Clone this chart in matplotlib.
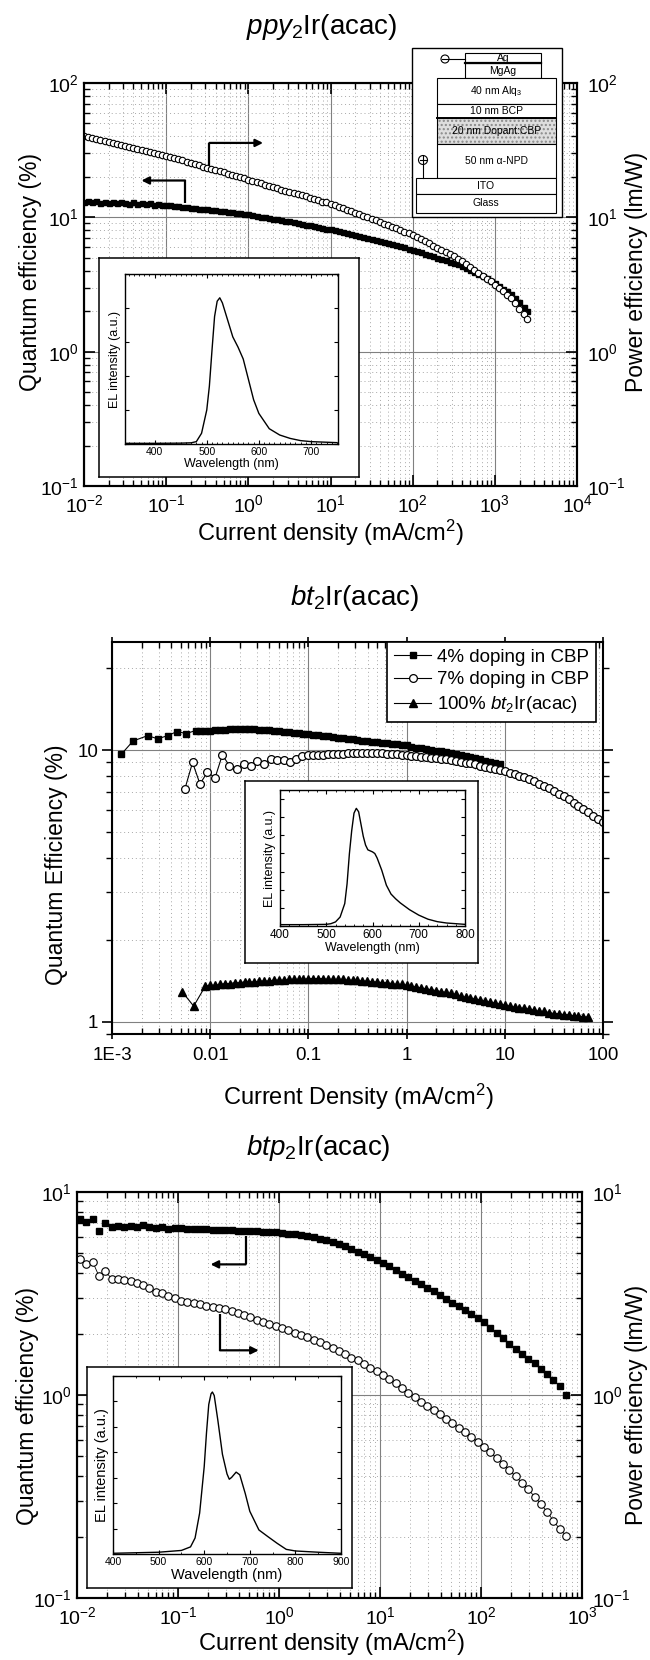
import matplotlib
matplotlib.use("Agg")
import matplotlib.pyplot as plt
from matplotlib.patches import Rectangle, Circle
from matplotlib.ticker import LogLocator, NullFormatter, MultipleLocator

plt.rcParams["font.family"] = ["Liberation Sans", "DejaVu Sans"]
plt.rcParams["mathtext.fontset"] = "custom"
plt.rcParams["mathtext.rm"] = "Liberation Sans"
plt.rcParams["mathtext.it"] = "Liberation Sans:italic"
plt.rcParams["mathtext.bf"] = "Liberation Sans:bold"

# ---------------- data: ppy2Ir(acac) ----------------
j_ppy = [0.0100, 0.0112, 0.0126, 0.0141, 0.0158, 0.0178, 0.0200, 0.0224, 0.0251, 0.0282,
         0.0316, 0.0355, 0.0398, 0.0447, 0.0501, 0.0562, 0.0631, 0.0708, 0.0794, 0.0891,
         0.100, 0.112, 0.126, 0.141, 0.158, 0.178, 0.200, 0.224, 0.251, 0.282,
         0.316, 0.355, 0.398, 0.447, 0.501, 0.562, 0.631, 0.708, 0.794, 0.891,
         1.00, 1.12, 1.26, 1.41, 1.58, 1.78, 2.00, 2.24, 2.51, 2.82,
         3.16, 3.55, 3.98, 4.47, 5.01, 5.62, 6.31, 7.08, 7.94, 8.91,
         10.0, 11.2, 12.6, 14.1, 15.8, 17.8, 20.0, 22.4, 25.1, 28.2,
         31.6, 35.5, 39.8, 44.7, 50.1, 56.2, 63.1, 70.8, 79.4, 89.1,
         100, 112, 126, 141, 158, 178, 200, 224, 251, 282,
         316, 355, 398, 447, 501, 562, 631, 708, 794, 891,
         1000, 1122, 1259, 1413, 1585, 1778, 1995, 2239, 2455]
qe_ppy = [13.1, 13.3, 12.9, 13.2, 12.8, 13.1, 12.8, 13.0, 12.7, 13.0,
          12.8, 12.6, 12.9, 12.6, 12.7, 12.5, 12.7, 12.4, 12.6, 12.4,
          12.4, 12.3, 12.2, 12.1, 12.0, 11.9, 11.8, 11.7, 11.6, 11.6,
          11.5, 11.4, 11.3, 11.2, 11.1, 11.0, 10.9, 10.8, 10.7, 10.6,
          10.5, 10.35, 10.2, 10.1, 10.0, 9.89, 9.77, 9.66, 9.55, 9.44,
          9.33, 9.20, 9.08, 8.95, 8.83, 8.71, 8.59, 8.47, 8.36, 8.24,
          8.13, 8.00, 7.87, 7.74, 7.62, 7.50, 7.38, 7.26, 7.14, 7.03,
          6.92, 6.79, 6.67, 6.55, 6.43, 6.31, 6.19, 6.08, 5.97, 5.86,
          5.75, 5.62, 5.50, 5.37, 5.25, 5.13, 5.01, 4.90, 4.79, 4.68,
          4.57, 4.46, 4.34, 4.21, 4.07, 3.94, 3.79, 3.66, 3.52, 3.37,
          3.24, 3.09, 2.95, 2.82, 2.69, 2.51, 2.34, 2.16, 2.00]
pe_ppy = [40.2, 39.5, 38.8, 38.2, 37.5, 36.9, 36.3, 35.6, 35.1, 34.4,
          33.9, 33.3, 32.8, 32.3, 31.8, 31.3, 30.8, 30.3, 29.8, 29.3,
          28.8, 28.2, 27.7, 27.1, 26.5, 26.0, 25.5, 24.9, 24.4, 23.9,
          23.4, 23.0, 22.5, 22.0, 21.6, 21.1, 20.7, 20.3, 19.9, 19.5,
          19.1, 18.7, 18.3, 17.9, 17.5, 17.2, 16.8, 16.5, 16.1, 15.8,
          15.5, 15.2, 14.9, 14.6, 14.3, 14.0, 13.7, 13.4, 13.1, 12.9,
          12.6, 12.3, 12.0, 11.7, 11.4, 11.1, 10.8, 10.5, 10.3, 10.0,
          9.77, 9.51, 9.25, 8.99, 8.75, 8.51, 8.28, 8.05, 7.83, 7.62,
          7.41, 7.14, 6.89, 6.64, 6.40, 6.17, 5.94, 5.73, 5.52, 5.32,
          5.13, 4.91, 4.70, 4.49, 4.28, 4.07, 3.87, 3.68, 3.50, 3.33,
          3.16, 2.99, 2.82, 2.66, 2.51, 2.29, 2.09, 1.91, 1.74]
wl_ppy = [345, 400, 450, 470, 480, 490, 500, 505, 510, 515, 520, 525, 530, 540, 550,
          560, 570, 580, 590, 600, 620, 640, 660, 680, 700, 750]
el_ppy = [0.004, 0.004, 0.005, 0.007, 0.014, 0.063, 0.20, 0.34, 0.55, 0.75, 0.84, 0.86, 0.83,
          0.73, 0.63, 0.57, 0.50, 0.38, 0.26, 0.18, 0.09, 0.053, 0.033, 0.02, 0.014, 0.008]

# ---------------- data: bt2Ir(acac) ----------------
j_bt = [0.00794, 0.00891,
        0.0100, 0.0112, 0.0126, 0.0141, 0.0158, 0.0178, 0.0200, 0.0224, 0.0251, 0.0282,
        0.0316, 0.0355, 0.0398, 0.0447, 0.0501, 0.0562, 0.0631, 0.0708, 0.0794, 0.0891,
        0.100, 0.112, 0.126, 0.141, 0.158, 0.178, 0.200, 0.224, 0.251, 0.282,
        0.316, 0.355, 0.398, 0.447, 0.501, 0.562, 0.631, 0.708, 0.794, 0.891,
        1.00, 1.12, 1.26, 1.41, 1.58, 1.78, 2.00, 2.24, 2.51, 2.82,
        3.16, 3.55, 3.98, 4.47, 5.01, 5.62, 6.31, 7.08, 7.94, 8.91,
        10.0, 11.2, 12.6, 14.1, 15.8, 17.8, 20.0, 22.4, 25.1, 28.2,
        31.6, 35.5, 39.8, 44.7, 50.1, 56.2, 63.1, 70.8, 79.4, 89.1,
        100]
j4_low = [0.00124, 0.00164, 0.00231, 0.00292, 0.00369, 0.00459, 0.00571, 0.00709]
qe4_low = [9.64, 10.8, 11.3, 11.0, 11.3, 11.7, 11.5, 11.8]
qe4 = [11.75, 11.8, 11.8, 11.9, 11.9, 11.9, 12.0, 12.0, 12.0, 12.0,
       12.0, 12.0, 11.9, 11.9, 11.9, 11.8, 11.8, 11.7, 11.7, 11.6,
       11.6, 11.5, 11.5, 11.4, 11.35, 11.3, 11.25, 11.2, 11.1, 11.1,
       11.0, 11.0, 10.9, 10.8, 10.8, 10.7, 10.7, 10.6, 10.6, 10.5,
       10.5, 10.4, 10.4, 10.3, 10.2, 10.2, 10.1, 10.0, 9.95, 9.89,
       9.82, 9.75, 9.66, 9.57, 9.48, 9.40, 9.31, 9.23, 9.14, 9.06,
       8.95, 8.85]
j7_low = [0.00553, 0.00661, 0.00787, 0.00938, 0.0112, 0.0133, 0.0157, 0.0186, 0.0219, 0.0259,
          0.0303, 0.0355, 0.0414, 0.0484, 0.0562, 0.0649, 0.0745, 0.0854, 0.0989]
qe7_low = [7.2, 9.0, 7.5, 8.3, 7.9, 9.6, 8.75, 8.5, 8.9, 8.7,
           9.1, 8.9, 9.3, 9.2, 9.2, 9.0, 9.3, 9.5, 9.55]
qe7 = [9.57, 9.59, 9.62, 9.64, 9.66, 9.68, 9.70, 9.72, 9.72, 9.75,
       9.75, 9.75, 9.75, 9.75, 9.72, 9.70, 9.68, 9.66, 9.62, 9.57,
       9.53, 9.48, 9.44, 9.40, 9.35, 9.31, 9.27, 9.23, 9.18, 9.12,
       9.06, 8.99, 8.93, 8.85, 8.77, 8.69, 8.61, 8.53, 8.45, 8.38,
       8.26, 8.15, 8.04, 7.93, 7.80, 7.67, 7.53, 7.38, 7.23, 7.06,
       6.90, 6.75, 6.58, 6.40, 6.22, 6.05, 5.89, 5.73, 5.57, 5.42]
j100_low = [0.00516, 0.00679]
qe100_low = [1.29, 1.14]
qe100 = [1.35, 1.36, 1.36, 1.37, 1.38, 1.38, 1.39, 1.39, 1.40, 1.40,
         1.40, 1.41, 1.41, 1.41, 1.42, 1.42, 1.42, 1.43, 1.43, 1.43,
         1.43, 1.44, 1.44, 1.44, 1.44, 1.43, 1.43, 1.43, 1.43, 1.42,
         1.42, 1.42, 1.41, 1.41, 1.40, 1.40, 1.39, 1.39, 1.38, 1.37,
         1.37, 1.36, 1.35, 1.34, 1.33, 1.32, 1.31, 1.30, 1.29, 1.28,
         1.27, 1.26, 1.24, 1.23, 1.22, 1.21, 1.20, 1.19, 1.18, 1.17,
         1.16, 1.15, 1.14, 1.13, 1.12, 1.12, 1.11, 1.10, 1.09, 1.09,
         1.08, 1.07, 1.07, 1.06, 1.06, 1.05, 1.05, 1.04, 1.04]
wl_bt = [400, 450, 500, 510, 520, 530, 540, 545, 550, 555, 560, 565, 570, 575, 580, 585,
         590, 600, 605, 610, 620, 630, 640, 650, 660, 680, 700, 720, 740, 760, 800]
el_bt = [0.01, 0.01, 0.012, 0.017, 0.03, 0.066, 0.165, 0.31, 0.53, 0.70, 0.83, 0.865, 0.84,
         0.75, 0.66, 0.595, 0.56, 0.545, 0.533, 0.50, 0.41, 0.30, 0.235, 0.20, 0.17, 0.12,
         0.08, 0.05, 0.032, 0.022, 0.012]

# ---------------- data: btp2Ir(acac) ----------------
j_btp = [0.0107, 0.0124, 0.0143, 0.0165, 0.0191, 0.0220, 0.0254, 0.0293,
         0.0339, 0.0391, 0.0452, 0.0522, 0.0603, 0.0696, 0.0804, 0.0928,
         0.107, 0.124, 0.143, 0.165, 0.191, 0.220, 0.254, 0.293,
         0.339, 0.391, 0.452, 0.522, 0.603, 0.696, 0.804, 0.928,
         1.07, 1.24, 1.43, 1.65, 1.91, 2.20, 2.54, 2.93,
         3.39, 3.91, 4.52, 5.22, 6.03, 6.96, 8.04, 9.28,
         10.7, 12.4, 14.3, 16.5, 19.1, 22.0, 25.4, 29.3,
         33.9, 39.1, 45.2, 52.2, 60.3, 69.6, 80.4, 92.8,
         107, 124, 143, 165, 191, 220, 254, 293,
         339, 391, 452, 522, 603, 696]
qe_btp = [7.36, 7.08, 7.36, 6.44, 7.00, 6.70, 6.80, 6.70, 6.83, 6.70, 6.90, 6.75, 6.62, 6.70, 6.58, 6.62,
          6.61, 6.59, 6.58, 6.56, 6.55, 6.53, 6.52, 6.50, 6.47, 6.46, 6.44, 6.41, 6.40, 6.37, 6.35, 6.32,
          6.28, 6.24, 6.18, 6.12, 6.07, 5.98, 5.89, 5.78, 5.66, 5.53, 5.40, 5.25, 5.09, 4.93, 4.78, 4.62,
          4.48, 4.31, 4.13, 3.96, 3.81, 3.66, 3.52, 3.37, 3.24, 3.10, 2.97, 2.85, 2.74, 2.62, 2.51, 2.40,
          2.28, 2.15, 2.03, 1.91, 1.79, 1.69, 1.60, 1.51, 1.43, 1.35, 1.27, 1.19, 1.11, 1.00]
pe_btp = [4.66, 4.40, 4.53, 3.85, 4.07, 3.74, 3.74, 3.70, 3.63, 3.56, 3.49, 3.36, 3.23, 3.18, 3.06, 3.00,
          2.92, 2.88, 2.84, 2.80, 2.75, 2.72, 2.68, 2.64, 2.59, 2.53, 2.47, 2.41, 2.35, 2.30, 2.24, 2.19,
          2.14, 2.09, 2.03, 1.98, 1.92, 1.87, 1.82, 1.77, 1.71, 1.65, 1.59, 1.53, 1.48, 1.42, 1.36, 1.31,
          1.26, 1.20, 1.14, 1.08, 1.02, 0.973, 0.927, 0.883, 0.841, 0.802, 0.764, 0.726, 0.690, 0.656, 0.622, 0.589,
          0.556, 0.521, 0.489, 0.457, 0.427, 0.397, 0.370, 0.343, 0.316, 0.291, 0.265, 0.240, 0.218, 0.203]
wl_btp = [400, 450, 500, 550, 570, 580, 590, 600, 605, 610, 615, 618, 622, 630, 640,
          650, 655, 660, 670, 678, 690, 700, 720, 740, 760, 780, 800, 850, 900]
el_btp = [0.004, 0.007, 0.01, 0.02, 0.04, 0.09, 0.23, 0.49, 0.68, 0.84, 0.90, 0.91, 0.89, 0.75, 0.56,
          0.45, 0.42, 0.43, 0.46, 0.445, 0.34, 0.24, 0.135, 0.097, 0.06, 0.026, 0.017, 0.01, 0.004]

W, H = 650, 1660
fig = plt.figure(figsize=(W / 100, H / 100), dpi=100)


def box(x0, y0, x1, y1):
    # pixel rectangle (top-left origin) -> figure fraction
    return [x0 / W, 1 - y1 / H, (x1 - x0) / W, (y1 - y0) / H]


def log_axes(rect, xlim, ylim):
    ax = fig.add_axes(box(*rect))
    ax.set_xscale("log")
    ax.set_yscale("log")
    ax.set_xlim(*xlim)
    ax.set_ylim(*ylim)
    for a in (ax.xaxis, ax.yaxis):
        a.set_major_locator(LogLocator(base=10, numticks=20))
        a.set_minor_locator(LogLocator(base=10, subs=range(2, 10), numticks=20))
        a.set_minor_formatter(NullFormatter())
    ax.grid(True, which="major", color="#808080", lw=0.8)
    ax.grid(True, which="minor", color="#a8a8a8", lw=0.7, ls=(0, (1, 3)))
    ax.set_axisbelow(True)
    for s in ax.spines.values():
        s.set_linewidth(1.5)
    return ax


def twin_right(ax, ylim):
    ax2 = ax.twinx()
    ax2.set_yscale("log")
    ax2.set_ylim(*ylim)
    ax2.yaxis.set_major_locator(LogLocator(base=10, numticks=20))
    ax2.yaxis.set_minor_locator(LogLocator(base=10, subs=range(2, 10), numticks=20))
    ax2.yaxis.set_minor_formatter(NullFormatter())
    ax2.tick_params(which="both", direction="in", labelsize=14, pad=7)
    ax2.tick_params(which="major", length=8, width=1.2)
    ax2.tick_params(which="minor", length=4, width=1)
    for s in ax2.spines.values():
        s.set_linewidth(1.5)
    return ax2


def elbow(ax, x0, y0, y1, x2):
    ax.plot([x0, x0], [y0, y1], color="black", lw=1.6, solid_capstyle="butt")
    ax.annotate("", xy=(x2, y1), xytext=(x0, y1),
                arrowprops=dict(arrowstyle="-|>", color="black", lw=1.6,
                                mutation_scale=11, shrinkA=0, shrinkB=0))


def inset(outer, inner, wl, el, xlim, xticks, xminor, ystep, fs_lab, fs_tick):
    ob = fig.add_axes(box(*outer))
    ob.set_xticks([])
    ob.set_yticks([])
    for s in ob.spines.values():
        s.set_linewidth(1.1)
    ia = fig.add_axes(box(*inner))
    ia.plot(wl, el, color="black", lw=1.0)
    ia.set_xlim(*xlim)
    ia.set_ylim(0, 1)
    ia.set_xticks(xticks)
    ia.xaxis.set_minor_locator(MultipleLocator(xminor))
    ia.yaxis.set_major_locator(MultipleLocator(ystep))
    ia.tick_params(which="both", direction="in", top=True, right=True,
                   labelsize=fs_tick, pad=2, labelleft=False)
    ia.tick_params(which="major", length=3, width=0.8)
    ia.tick_params(which="minor", length=1.5, width=0.6)
    ia.set_xlabel("Wavelength (nm)", fontsize=fs_lab, labelpad=1)
    ia.set_ylabel("EL intensity (a.u.)", fontsize=fs_lab, labelpad=3)
    for s in ia.spines.values():
        s.set_linewidth(1.0)
    return ia


def ftext(x, y, s, **kw):
    fig.text(x / W, 1 - y / H, s, ha="center", va="center", **kw)


# ================= panel 1 =================
ax1 = log_axes((84, 83, 577, 486), (1e-2, 1e4), (0.1, 100))
ax1.plot(j_ppy, qe_ppy, ls="none", marker="s", ms=3.6, color="black")
ax1.set_xlim(1e-2, 1e4)
ax1.set_ylim(0.1, 100)
ax1.tick_params(which="both", direction="in", top=True, right=False, labelsize=14)
ax1.tick_params(axis="x", pad=6)
ax1.tick_params(axis="y", pad=4)
ax1.tick_params(which="major", length=8, width=1.2)
ax1.tick_params(which="minor", length=4, width=1)
ax1b = twin_right(ax1, (0.1, 100))
ax1b.plot(j_ppy, pe_ppy, ls="none", marker="o", ms=4.6, mfc="white", mec="black", mew=0.8)
ax1b.set_ylim(0.1, 100)
elbow(ax1, 0.17, 12.7, 18.8, 0.05)
elbow(ax1, 0.336, 24.0, 35.8, 1.51)

ftext(322, 27, r"$\mathit{ppy}_2$Ir(acac)", fontsize=20)
ftext(330, 533, r"Current density (mA/cm$^2$)", fontsize=17)
ftext(31, 272, "Quantum efficiency (%)", fontsize=16.5, rotation=90)
ftext(636, 272, "Power efficiency (lm/W)", fontsize=16.5, rotation=90)

inset((99, 258, 359, 477), (125, 274, 338, 444), wl_ppy, el_ppy,
      (343, 752), [400, 500, 600, 700], 10, 0.2, 9, 7.5)

# ================= panel 2 =================
ax2 = log_axes((112, 642, 603, 1034), (1e-3, 100), (0.9, 25))
ax2.plot(j4_low + j_bt[0:62], qe4_low + qe4, "-", color="black", lw=0.8,
         marker="s", ms=4.6, label="4% doping in CBP")
ax2.plot(j7_low + j_bt[23:83], qe7_low + qe7, "-", color="black", lw=0.8,
         marker="o", ms=5.6, mfc="white", mec="black", mew=0.9, label="7% doping in CBP")
ax2.plot(j100_low + j_bt[1:80], qe100_low + qe100, "-", color="black", lw=0.8,
         marker="^", ms=5.4, label=r"100% $\mathit{bt}_2$Ir(acac)")
ax2.set_xlim(1e-3, 100)
ax2.set_ylim(0.9, 25)
ax2.set_xticks([1e-3, 1e-2, 1e-1, 1, 10, 100], ["1E-3", "0.01", "0.1", "1", "10", "100"])
ax2.set_yticks([1, 10], ["1", "10"])
ax2.yaxis.set_minor_locator(LogLocator(base=10, subs=range(2, 10), numticks=20))
ax2.yaxis.set_minor_formatter(NullFormatter())
ax2.tick_params(which="both", top=True, right=True, labelsize=13.5)
ax2.tick_params(axis="y", which="both", direction="out", pad=3)
ax2.tick_params(axis="x", which="major", direction="inout", pad=6)
ax2.tick_params(axis="x", which="minor", direction="in")
ax2.tick_params(which="major", length=7, width=1.2)
ax2.tick_params(which="minor", length=4, width=1)
leg = ax2.legend(loc="upper right", bbox_to_anchor=(0.985, 1.0), frameon=True, fancybox=False,
                 edgecolor="black", framealpha=1, fontsize=13.5, handlelength=2.0,
                 handletextpad=0.3, borderpad=0.35, labelspacing=0.3, borderaxespad=0)
leg.get_frame().set_linewidth(1.2)

ftext(355, 598, r"$\mathit{bt}_2$Ir(acac)", fontsize=20)
ftext(358, 1097, r"Current Density (mA/cm$^2$)", fontsize=17)
ftext(57, 865, "Quantum Efficiency (%)", fontsize=16.5, rotation=90)

inset((245, 781, 478, 963), (280, 790, 465, 926), wl_bt, el_bt,
      (400, 800), [400, 500, 600, 700, 800], 20, 0.1335, 9, 8.5)

# ================= panel 3 =================
ax3 = log_axes((77, 1192, 582, 1598), (1e-2, 1e3), (0.1, 10))
ax3.plot(j_btp, qe_btp, ls="none", marker="s", ms=4.8, color="black")
ax3.set_xlim(1e-2, 1e3)
ax3.set_ylim(0.1, 10)
ax3.tick_params(which="both", direction="in", top=True, right=False, labelsize=14)
ax3.tick_params(axis="x", pad=6)
ax3.tick_params(axis="y", pad=4)
ax3.tick_params(which="major", length=8, width=1.2)
ax3.tick_params(which="minor", length=4, width=1)
ax3b = twin_right(ax3, (0.1, 10))
ax3b.plot(j_btp, pe_btp, "-", color="black", lw=0.6, marker="o", ms=5.4,
          mfc="white", mec="black", mew=0.8)
ax3b.set_ylim(0.1, 10)
elbow(ax3, 0.468, 6.08, 4.4, 0.21)
elbow(ax3, 0.26, 2.52, 1.66, 0.63)

ftext(318, 1148, r"$\mathit{btp}_2$Ir(acac)", fontsize=20)
ftext(331, 1643, r"Current density (mA/cm$^2$)", fontsize=17)
ftext(28, 1406, "Quantum efficiency (%)", fontsize=16.5, rotation=90)
ftext(637, 1405, "Power efficiency (lm/W)", fontsize=16.5, rotation=90)

inset((87, 1367, 352, 1588), (113, 1376, 341, 1554), wl_btp, el_btp,
      (400, 900), [400, 500, 600, 700, 800, 900], 50, 1 / 7, 10.5, 7.5)

# ================= device structure (panel 1) =================
ov = fig.add_axes([0, 0, 1, 1], zorder=20)
ov.set_xlim(0, W)
ov.set_ylim(H, 0)
ov.axis("off")
ov.add_patch(Rectangle((412, 48), 150, 169, fc="white", ec="black", lw=1.0))
layers = [
    (465, 53, 76, 10, "Ag"),
    (465, 63, 76, 15, "MgAg"),
    (437, 78, 119, 26, r"40 nm Alq$_3$"),
    (437, 104, 119, 14, "10 nm BCP"),
    (437, 118, 119, 26, "20 nm Dopant:CBP"),
    (437, 144, 119, 34, "50 nm α-NPD"),
    (416, 178, 140, 16, "ITO"),
    (416, 194, 140, 19, "Glass"),
]
for x, y, w, h, name in layers:
    if name.startswith("20 nm"):
        ov.add_patch(Rectangle((x, y), w, h, fc="#dedede", ec="#8a8a8a", lw=0, hatch="...."))
        ov.add_patch(Rectangle((x, y), w, h, fc="none", ec="black", lw=0.8))
    else:
        ov.add_patch(Rectangle((x, y), w, h, fc="white", ec="black", lw=0.8))
    ov.text(x + w / 2, y + h / 2, name, ha="center", va="center", fontsize=7.5)
ov.plot([465, 541], [63, 63], color="black", lw=1.6)
ov.plot([437, 556], [118, 118], color="black", lw=1.4)
ov.add_patch(Circle((445, 59), 4, fc="white", ec="black", lw=0.8))
ov.plot([442, 448], [59, 59], color="black", lw=0.8)
ov.plot([449, 465], [59, 59], color="black", lw=0.8)
ov.add_patch(Circle((423, 160), 4.5, fc="white", ec="black", lw=0.8))
ov.plot([419.5, 426.5], [160, 160], color="black", lw=0.8)
ov.plot([423, 423], [156.5, 163.5], color="black", lw=0.8)
ov.plot([423, 423], [164.5, 178], color="black", lw=0.8)

fig.savefig("out.png", dpi=100)
